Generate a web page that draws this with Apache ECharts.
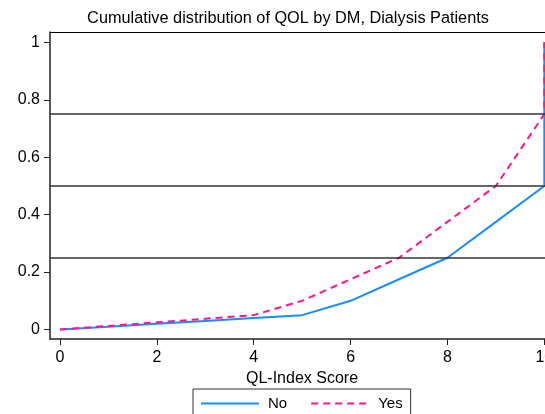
<!DOCTYPE html>
<html>
<head>
<meta charset="utf-8">
<script src="https://cdn.jsdelivr.net/npm/echarts@6/dist/echarts.min.js"></script>
<style>html,body{margin:0;padding:0;background:#fff;}#c{width:545px;height:414px;}</style>
</head>
<body>
<div id="c"></div>
<script>
var scores = [0, 1, 2, 3, 4, 5, 6, 7, 8, 9, 10, 10];
var cumNo  = [0, 0.01, 0.02, 0.03, 0.04, 0.05, 0.10, 0.175, 0.25, 0.375, 0.5, 1];
var cumYes = [0, 0.0125, 0.025, 0.0375, 0.05, 0.10, 0.175, 0.25, 0.375, 0.5, 0.75, 1];
var xTicks = [0, 2, 4, 6, 8, 10];
var yTicks = [0, 0.2, 0.4, 0.6, 0.8, 1];
var refLines = [0.25, 0.5, 0.75];
var seriesNames = ['No', 'Yes'];

function pairs(xs, ys) { return xs.map(function (x, i) { return [x, ys[i]]; }); }

var font = 'Liberation Sans, Arial, sans-serif';
var chart = echarts.init(document.getElementById('c'), null, {renderer: 'canvas'});
chart.setOption({
  animation: false,
  backgroundColor: '#fff',
  textStyle: {fontFamily: font},
  title: {
    text: 'Cumulative distribution of QOL by DM, Dialysis Patients',
    left: 288, textAlign: 'center', top: 11, padding: 0,
    textStyle: {fontSize: 16.3, fontWeight: 'normal', color: '#000', fontFamily: font}
  },
  grid: {left: 50, right: 0, top: 32, bottom: 75, show: false, containLabel: false, outerBoundsMode: 'none'},
  legend: {
    left: 193, top: 389,
    padding: [7, 8, 10, 7],
    itemWidth: 58, itemHeight: 14, itemGap: 23,
    borderColor: '#333', borderWidth: 1, backgroundColor: '#fff',
    itemStyle: {opacity: 0, color: 'rgba(0,0,0,0)', borderWidth: 0},
    textStyle: {fontSize: 15, color: '#000', fontFamily: font, padding: [0, 0, 0, 4]},
    data: seriesNames
  },
  xAxis: [{
    type: 'value', min: -0.2065, max: 10.014,
    name: 'QL-Index Score', nameLocation: 'middle', nameGap: 24,
    nameTextStyle: {fontSize: 16, color: '#000', fontFamily: font, padding: [0, 0, 0, 9]},
    axisLine: {show: true, onZero: false, lineStyle: {color: '#222', width: 1.5}},
    axisTick: {show: true, length: 6, customValues: xTicks, lineStyle: {color: '#222', width: 1}},
    axisLabel: {customValues: xTicks, fontSize: 16, color: '#000', margin: 11, fontFamily: font, hideOverlap: false},
    splitLine: {show: false}
  }, {
    type: 'value', position: 'top', min: -0.2065, max: 10.014,
    axisLine: {show: true, onZero: false, lineStyle: {color: '#000', width: 1}},
    axisTick: {show: false}, axisLabel: {show: false}, splitLine: {show: false}
  }],
  yAxis: {
    type: 'value', min: -0.033, max: 1.036,
    axisLine: {show: true, onZero: false, lineStyle: {color: '#222', width: 1.5}},
    axisTick: {show: true, length: 6, customValues: yTicks, lineStyle: {color: '#222', width: 1}},
    axisLabel: {customValues: yTicks, fontSize: 16, color: '#000', margin: 10, fontFamily: font},
    splitLine: {show: false}
  },
  series: [
    {
      name: seriesNames[0], type: 'line', data: pairs(scores, cumNo),
      symbol: 'none', color: '#1a8cff',
      lineStyle: {color: '#1a8cff', width: 2, type: 'solid'},
      markLine: {
        silent: true, symbol: ['none', 'none'], label: {show: false},
        lineStyle: {color: '#333', width: 1.5, type: 'solid'},
        data: refLines.map(function (v) { return {yAxis: v}; })
      },
      z: 3
    },
    {
      name: seriesNames[1], type: 'line', data: pairs(scores, cumYes),
      symbol: 'none', color: '#ff1493',
      lineStyle: {color: '#ff1493', width: 2, type: [7, 5]},
      z: 4
    }
  ]
});
</script>
</body>
</html>
